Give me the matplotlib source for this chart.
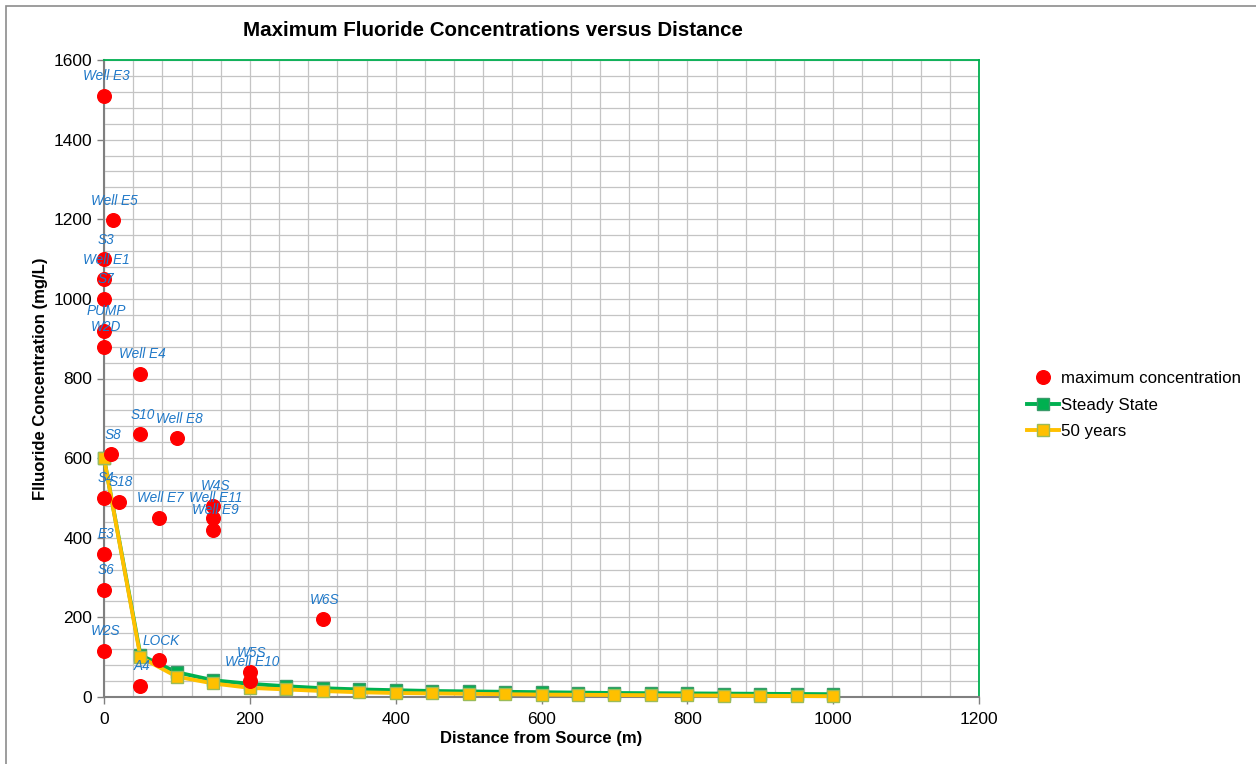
import matplotlib
matplotlib.use("Agg")
import matplotlib.pyplot as plt
from matplotlib.ticker import MultipleLocator
from matplotlib.patches import Rectangle

plt.rcParams['font.family'] = ['Liberation Sans', 'DejaVu Sans']

# Measured maximum concentrations (labelled wells)
well_names = ["Well E3", "Well E5", "S3", "Well E1", "S7", "PUMP", "W2D", "Well E4",
              "S10", "Well E8", "S8", "S4", "S18", "Well E7", "W4S", "Well E11",
              "Well E9", "E3", "S6", "W6S", "W2S", "LOCK", "A4", "W5S", "Well E10"]
well_dist = [0, 12, 0, 0, 0, 0, 0, 50,
             50, 100, 10, 0, 20, 75, 150, 150,
             150, 0, 0, 300, 0, 75, 50, 200, 200]
well_conc = [1510, 1197, 1100, 1050, 1000, 920, 880, 812,
             660, 650, 610, 500, 490, 450, 480, 450,
             420, 360, 270, 196, 116, 92, 28, 62, 40]

# Model curves
model_dist = [0, 50, 100, 150, 200, 250, 300, 350, 400, 450, 500,
              550, 600, 650, 700, 750, 800, 850, 900, 950, 1000]
steady_state = [600, 105, 62, 42, 33, 27, 22, 19, 17, 15, 14,
                13, 12, 11, 10, 9.5, 9, 8.5, 8, 7.5, 7]
fifty_years = [600, 100, 51, 34, 23, 19, 15, 12, 10, 9, 8,
               7, 6, 5.5, 5, 4.5, 4, 3.5, 3, 2.5, 2]

fig = plt.figure(figsize=(12.56, 7.64), dpi=100)
# outer chart border
fig.patches.append(Rectangle((6/1256, -0.01), 1.02, (764-6)/764 + 0.01,
                             transform=fig.transFigure, fill=False,
                             edgecolor='#8c8c8c', lw=1.2))

ax = fig.add_axes([104/1256, 67/764, 875/1256, 637/764])

ax.set_xlim(0, 1200)
ax.set_ylim(0, 1600)
ax.xaxis.set_major_locator(MultipleLocator(200))
ax.yaxis.set_major_locator(MultipleLocator(200))
ax.xaxis.set_minor_locator(MultipleLocator(40))
ax.yaxis.set_minor_locator(MultipleLocator(40))
ax.grid(which='both', color='#c4c4c4', lw=0.9, zorder=0)
ax.set_axisbelow(True)
ax.tick_params(which='major', direction='out', length=5, color='#808080',
               labelsize=12.5, width=1)
ax.tick_params(axis='x', pad=6)
ax.tick_params(which='minor', length=0)

for s in ['left', 'bottom']:
    ax.spines[s].set_color('#808080')
    ax.spines[s].set_linewidth(1.5)
for s in ['top', 'right']:
    ax.spines[s].set_color('#00b050')
    ax.spines[s].set_linewidth(1.3)

ax.plot(model_dist, steady_state, color='#00b050', lw=2.8, marker='s',
        markersize=8.5, markerfacecolor='#00b050', markeredgecolor='#3a9a6a',
        label='Steady State', zorder=3, clip_on=False)
ax.plot(model_dist, fifty_years, color='#ffc000', lw=2.8, marker='s',
        markersize=9, markerfacecolor='#ffc000', markeredgecolor='#9bbb59',
        markeredgewidth=1, label='50 years', zorder=4, clip_on=False)
ax.plot(well_dist, well_conc, linestyle='none', marker='o', markersize=9.8,
        color='#ff0000', label='maximum concentration', zorder=5, clip_on=False)

for name, xd, yd in zip(well_names, well_dist, well_conc):
    ax.annotate(name, (xd, yd), xytext=(1.5, 14), textcoords='offset points',
                ha='center', va='center', fontsize=9.8, style='italic',
                color='#1f78c8', zorder=6, annotation_clip=False)

ax.set_xlabel('Distance from Source (m)', fontsize=12, fontweight='bold', labelpad=3)
ax.set_ylabel('Flluoride Concentration (mg/L)', fontsize=12, fontweight='bold', labelpad=4)
fig.text(493/1256, 1 - 31/764, 'Maximum Fluoride Concentrations versus Distance',
         ha='center', va='center', fontsize=14.8, fontweight='bold')

h, l = ax.get_legend_handles_labels()
order = [2, 0, 1]
leg = fig.legend([h[i] for i in order], [l[i] for i in order],
                 loc='center left', bbox_to_anchor=(1012/1256, 1 - 405/764),
                 frameon=False, fontsize=12.2, handlelength=1.9,
                 handletextpad=0.1, labelspacing=0.68)

fig.savefig('out.png', dpi=100)
